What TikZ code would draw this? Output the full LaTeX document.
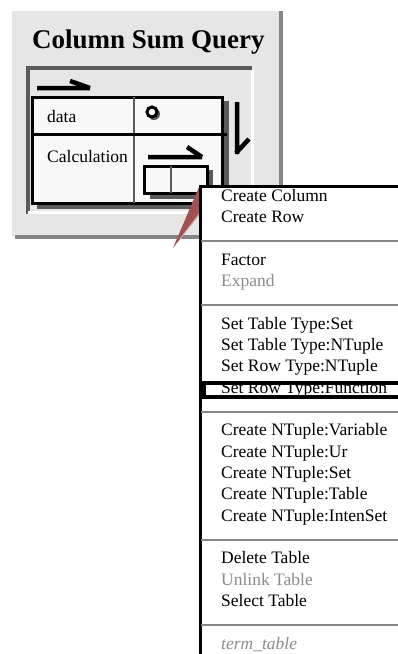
\documentclass[tikz,border=0pt]{standalone}
\usepackage{fontspec}
\setmainfont{Liberation Serif}
\definecolor{panelgray}{HTML}{E6E6E6}
\definecolor{cellgray}{HTML}{F8F8F8}
\definecolor{shadegray}{HTML}{5A5A5A}
\definecolor{rulegray}{HTML}{858585}
\definecolor{dimtext}{HTML}{8C8C8C}
\definecolor{pointred}{HTML}{A35252}
\tikzset{item/.style={anchor=base west,inner sep=0pt,font=\fontsize{17.5}{20}\selectfont},
  dimitem/.style={item,text=dimtext},
  stroke/.style={line width=4.5pt},
  sep/.style={rulegray,line width=2.5pt}}

\begin{document}
\begin{tikzpicture}[x=1pt,y=-1pt]
  \path[use as bounding box] (0,0) rectangle (398,654);
  \clip (0,0) rectangle (398,654);
  % query panel
  \fill[panelgray] (12,11) rectangle (280,236);
  \draw[rulegray,line width=4pt] (15,237) -- (281,237) -- (281,11);
  \node[anchor=base west,inner sep=0pt,font=\fontsize{27}{30}\selectfont\bfseries] (title) at (32,48) {Column Sum Query};
  \draw[shadegray,line width=4.5pt] (28,214) -- (28,68) -- (252,68);
  \draw[white,line width=3pt] (28,212) -- (252,212) -- (252,70);
  % table
  \fill[shadegray] (37,101) rectangle (229,209);
  \draw[fill=cellgray,line width=3pt] (32,97) rectangle (222,203);
  \draw[shadegray,line width=2pt] (134,97) -- (134,203);
  \draw[line width=3pt] (31,134) -- (227,134);
  \node[item] (data) at (47,122) {data};
  \node[item] (calc) at (47,162) {Calculation};
  \fill[shadegray] (154,114) circle[radius=6];
  \draw[line width=3pt,fill=white] (152,112) circle[radius=5];
  \draw[stroke] (37,88) -- (90,88) (70,81) -- (90,88);
  \draw[stroke] (237,102) -- (237,154) (236,153) -- (249,139);
  \draw[stroke] (148,157) -- (202,157) (187,147) -- (202,157);
  \fill[shadegray] (150,170) rectangle (213,199);
  \draw[fill=cellgray,line width=3pt] (144,166) rectangle (207,193);
  \draw[shadegray,line width=2pt] (171,166) -- (171,193);
  % pointer
  \fill[pointred] (199,187) -- (199,215) -- (173,248) -- cycle;
  \draw[white!65!pointred,line width=.6pt] (199,214) -- (180,239);
  % menu
  \draw[fill=white,line width=3pt] (200,186) rectangle (410,660);
  \foreach \yy in {241,305,412,540,625}
    \draw[sep] (201,\yy) -- (398,\yy);
  \foreach \yy/\txt in {201/Create Column,222/Create Row,265/Factor,
      329/Set Table Type:Set,350/Set Table Type:NTuple,371/Set Row Type:NTuple,
      393/Set Row Type:Function,435/Create NTuple:Variable,457/Create NTuple:Ur,
      478/Create NTuple:Set,499/Create NTuple:Table,521/Create NTuple:IntenSet,
      563/Delete Table,606/Select Table}
    \node[item] (item\yy) at (221,\yy) {\txt};
  \node[dimitem] (item286) at (221,286) {Expand};
  \node[dimitem] (item585) at (221,585) {Unlink Table};
  \node[dimitem,font=\fontsize{17.5}{20}\selectfont\itshape] (item649) at (221,649) {term\_table};
  \draw[line width=4pt] (204,383) rectangle (410,397);
\end{tikzpicture}
\end{document}
